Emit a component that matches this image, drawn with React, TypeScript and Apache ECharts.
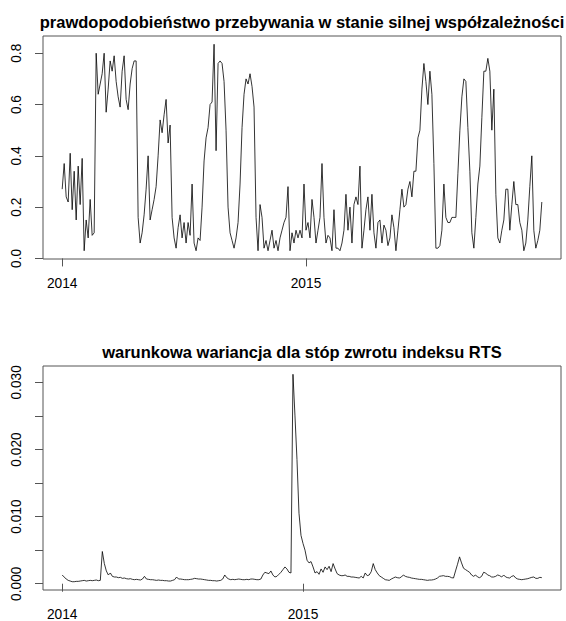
import React, { useEffect, useRef } from 'react';
import * as echarts from 'echarts';

// Titles of the two panels
const probTitle = 'prawdopodobieństwo przebywania w stanie silnej współzależności';
const varTitle = 'warunkowa wariancja dla stóp zwrotu indeksu RTS';

// Smoothed probability of the strong-dependence regime (regular series, PROB_FREQ obs. per year)
const PROB_START = 2014;
const PROB_FREQ = 122;
const probValues = [
  0.27, 0.37, 0.24, 0.22, 0.41, 0.19, 0.34, 0.15, 0.36, 0.21,
  0.39, 0.03, 0.15, 0.08, 0.23, 0.09, 0.10, 0.80, 0.64, 0.68,
  0.72, 0.80, 0.57, 0.66, 0.77, 0.73, 0.79, 0.69, 0.63, 0.59,
  0.73, 0.79, 0.62, 0.58, 0.68, 0.74, 0.77, 0.77, 0.16, 0.06,
  0.10, 0.17, 0.27, 0.40, 0.15, 0.19, 0.23, 0.28, 0.40, 0.54,
  0.49, 0.56, 0.62, 0.45, 0.52, 0.16, 0.08, 0.04, 0.12, 0.17,
  0.08, 0.14, 0.06, 0.14, 0.09, 0.29, 0.06, 0.03, 0.08, 0.07,
  0.20, 0.38, 0.47, 0.51, 0.60, 0.61, 0.835, 0.42, 0.76, 0.77,
  0.76, 0.69, 0.50, 0.20, 0.10, 0.07, 0.04, 0.08, 0.14, 0.29,
  0.51, 0.64, 0.70, 0.68, 0.72, 0.67, 0.59, 0.16, 0.03, 0.21,
  0.16, 0.04, 0.07, 0.03, 0.07, 0.11, 0.04, 0.07, 0.03, 0.08,
  0.11, 0.14, 0.16, 0.28, 0.03, 0.10, 0.06, 0.11, 0.08, 0.11,
  0.08, 0.29, 0.11, 0.14, 0.08, 0.23, 0.16, 0.06, 0.11, 0.16,
  0.37, 0.16, 0.06, 0.09, 0.08, 0.03, 0.19, 0.04, 0.04, 0.03,
  0.06, 0.11, 0.25, 0.11, 0.20, 0.06, 0.21, 0.24, 0.21, 0.36,
  0.04, 0.11, 0.19, 0.24, 0.11, 0.25, 0.10, 0.04, 0.14, 0.15,
  0.06, 0.13, 0.11, 0.05, 0.08, 0.17, 0.12, 0.03, 0.11, 0.19,
  0.27, 0.20, 0.21, 0.27, 0.30, 0.24, 0.34, 0.34, 0.47, 0.50,
  0.66, 0.76, 0.69, 0.60, 0.73, 0.64, 0.37, 0.04, 0.04, 0.05,
  0.11, 0.29, 0.16, 0.14, 0.14, 0.16, 0.16, 0.16, 0.33, 0.50,
  0.63, 0.70, 0.69, 0.51, 0.34, 0.10, 0.04, 0.16, 0.29, 0.36,
  0.55, 0.73, 0.73, 0.78, 0.73, 0.50, 0.66, 0.25, 0.08, 0.06,
  0.11, 0.15, 0.27, 0.27, 0.11, 0.21, 0.30, 0.21, 0.21, 0.14,
  0.11, 0.03, 0.06, 0.15, 0.28, 0.40, 0.11, 0.04, 0.07, 0.11,
  0.22,
];

// Conditional variance of RTS returns, stored in units of 1e-4 (VAR_FREQ obs. per year)
const VAR_START = 2014;
const VAR_FREQ = 120;
const VAR_UNIT = 1e-4;
const varValuesE4 = [
  13, 10, 7, 5, 4, 3, 3, 3.5, 3.5, 4,
  4.5, 5, 4, 4.5, 5, 4.5, 5, 5.5, 4.5, 5,
  48, 30, 19, 13, 16, 11, 10, 10, 9, 9.5,
  8, 8.5, 7.5, 7, 7.5, 6.5, 6, 6.5, 6, 5.5,
  7, 11, 7, 6.5, 6, 6, 5.5, 5, 5.5, 5,
  5, 4.5, 4.5, 4, 4, 5, 6, 10, 7, 7,
  6.5, 6, 6, 6, 6.5, 7, 8, 7.5, 7, 7,
  6.5, 6, 5.5, 5, 5, 4.5, 4.5, 4, 4.5, 5,
  7, 13, 9, 7, 6, 6.5, 6, 6.5, 7, 6.5,
  6, 6, 6.5, 6, 7, 7, 6.5, 6, 6, 7,
  13, 17, 16, 15, 19, 13, 10, 11, 14, 17,
  21, 25, 22, 17, 16, 312, 250, 185, 105, 72,
  60, 50, 35, 31, 33, 25, 16, 18, 14, 22,
  17, 25, 21, 26, 18, 30, 22, 15, 13, 12,
  12, 13, 11, 11, 10, 10, 9.5, 9, 8.5, 11,
  8.5, 16, 12, 13, 18, 30, 21, 16, 12, 10,
  8, 6, 5.5, 5, 7, 8.5, 10, 9, 8.5, 10,
  13, 11, 10, 9.5, 8.5, 8, 7.5, 7, 6.5, 6.5,
  6, 5.5, 5, 5.5, 5.5, 6, 7, 8.5, 11, 11.5,
  12, 11, 11, 10.5, 9, 8.5, 19, 29, 40, 31,
  23, 21, 19, 17, 13, 11, 13, 10, 9, 11,
  17, 16, 13, 12, 10, 10, 11, 13, 12, 10,
  13, 10, 9, 8.5, 11, 12, 8.5, 7, 6.5, 6,
  6.5, 7, 7.5, 8.5, 9.5, 10, 8, 8, 9.5, 9,
];

// Tick positions
const yearTicks = [2014, 2015];
const probTicks = [0, 0.2, 0.4, 0.6, 0.8];
const varTicks = [0, 0.005, 0.01, 0.015, 0.02, 0.025, 0.03];
const varLabelTicks = [0, 0.01, 0.02, 0.03];

// Range extended by 4% on each side, as in R's default axis style
function padRange(values: number[]): [number, number] {
  const lo = Math.min(...values);
  const hi = Math.max(...values);
  const d = (hi - lo) * 0.04;
  return [lo - d, hi + d];
}

const FONT = "'Liberation Sans', Arial, sans-serif";

export default function App() {
  const ref = useRef<HTMLDivElement>(null);

  useEffect(() => {
    document.body.style.margin = '0';
    if (!ref.current) return;
    const chart = echarts.init(ref.current, undefined, { renderer: 'svg' });

    const probData = probValues.map((v, i) => [PROB_START + i / PROB_FREQ, v]);
    const varValues = varValuesE4.map((v) => v * VAR_UNIT);
    const varData = varValues.map((v, i) => [VAR_START + i / VAR_FREQ, v]);

    const [px0, px1] = padRange(probData.map((d) => d[0]));
    const [py0, py1] = padRange(probValues);
    const [vx0, vx1] = padRange(varData.map((d) => d[0]));
    const [vy0, vy1] = padRange(varValues);

    const frameColor = '#555';
    const labelStyle = { fontFamily: FONT, fontSize: 13.75, color: '#000' };

    const xAxisBase = (gridIndex: number, min: number, max: number) => ({
      type: 'value',
      gridIndex,
      min,
      max,
      axisLine: { show: false },
      splitLine: { show: false },
      axisTick: { show: true, length: 8, customValues: yearTicks, lineStyle: { color: frameColor, width: 1 } },
      axisLabel: {
        ...labelStyle,
        customValues: yearTicks,
        margin: 17,
        formatter: (v: number) => String(Math.round(v)),
      },
    });

    chart.setOption({
      animation: false,
      backgroundColor: '#fff',
      title: [
        {
          text: probTitle,
          left: 302,
          top: 13,
          padding: 0,
          textAlign: 'center',
          textStyle: { fontFamily: FONT, fontSize: 16.5, fontWeight: 'bold', color: '#000' },
        },
        {
          text: varTitle,
          left: 302,
          top: 343,
          padding: 0,
          textAlign: 'center',
          textStyle: { fontFamily: FONT, fontSize: 16.5, fontWeight: 'bold', color: '#000' },
        },
      ],
      grid: [
        { left: 43, top: 36, width: 518, height: 223, show: true, borderColor: frameColor, borderWidth: 1 },
        { left: 43, top: 366, width: 518, height: 224, show: true, borderColor: frameColor, borderWidth: 1 },
      ],
      xAxis: [xAxisBase(0, px0, px1), xAxisBase(1, vx0, vx1)],
      yAxis: [
        {
          type: 'value',
          gridIndex: 0,
          min: py0,
          max: py1,
          axisLine: { show: false },
          splitLine: { show: false },
          axisTick: { show: true, length: 8, customValues: probTicks, lineStyle: { color: frameColor, width: 1 } },
          axisLabel: {
            ...labelStyle,
            customValues: probTicks,
            rotate: 90,
            margin: 20,
            formatter: (v: number) => v.toFixed(1),
          },
        },
        {
          type: 'value',
          gridIndex: 1,
          min: vy0,
          max: vy1,
          axisLine: { show: false },
          splitLine: { show: false },
          axisTick: { show: true, length: 8, customValues: varTicks, lineStyle: { color: frameColor, width: 1 } },
          axisLabel: {
            ...labelStyle,
            customValues: varLabelTicks,
            rotate: 90,
            margin: 20,
            formatter: (v: number) => v.toFixed(3),
          },
        },
      ],
      series: [
        {
          type: 'line',
          xAxisIndex: 0,
          yAxisIndex: 0,
          data: probData,
          showSymbol: false,
          lineStyle: { color: '#000', width: 0.8 },
        },
        {
          type: 'line',
          xAxisIndex: 1,
          yAxisIndex: 1,
          data: varData,
          showSymbol: false,
          lineStyle: { color: '#000', width: 0.8 },
        },
      ],
    });

    return () => chart.dispose();
  }, []);

  return <div ref={ref} style={{ width: 566, height: 621 }} />;
}
